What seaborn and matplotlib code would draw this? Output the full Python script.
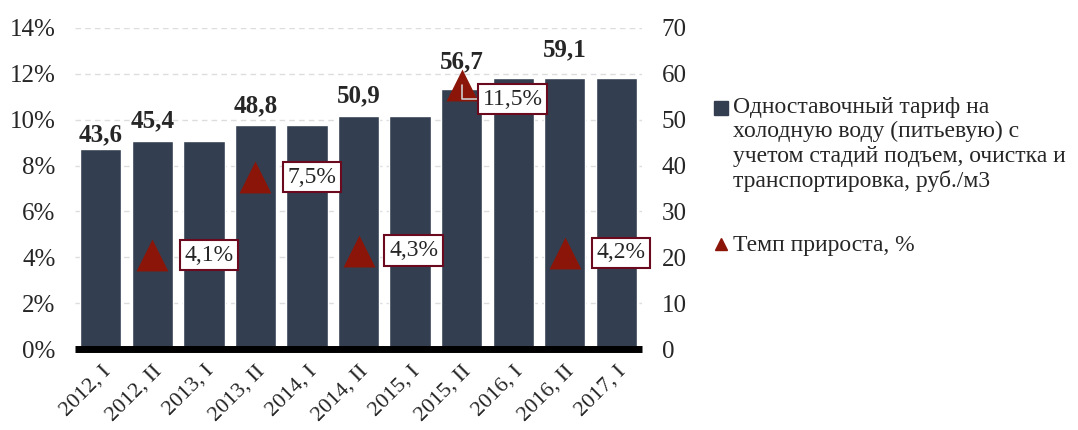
import numpy as np
import pandas as pd
import seaborn as sb
import matplotlib.pyplot as plt
from matplotlib.lines import Line2D

periods = ['2012, I', '2012, II', '2013, I', '2013, II', '2014, I', '2014, II',
           '2015, I', '2015, II', '2016, I', '2016, II', '2017, I']
tariff = [43.6, 45.4, 45.4, 48.8, 48.8, 50.9, 50.9, 56.7, 59.1, 59.1, 59.1]
growth = [np.nan, 4.1, np.nan, 7.5, np.nan, 4.3, np.nan, 11.5, np.nan, 4.2, np.nan]
labelled = [True, True, False, True, False, True, False, True, False, True, False]
# label offsets in points (value labels above bars, % boxes right of triangles)
lab_dy = [2, 6, 0, 6, 0, 6, 0, 11, 0, 12, 0]
box_dx = [0, 23, 0, 23, 0, 22, 0, 15, 0, 23, 0]
box_dy = [0, 0, 0, 0, 0, 0, 0, -10, 0, 0, 0]

bar_col = '#333F50'
tri_col = '#8B1509'
box_edge = '#6B0A1E'

df = pd.DataFrame({'period': periods, 'tariff': tariff, 'growth': growth})

sb.set_style('white')
plt.rcParams['font.family'] = ['Liberation Serif', 'DejaVu Serif']

fig = plt.figure(figsize=(10.78, 4.30), dpi=100)
ax = fig.add_axes([0.0696, 0.188, 0.526, 0.747])
ax2 = ax.twinx()

# bars on the right axis
sb.barplot(data=df, x='period', y='tariff', order=periods, color=bar_col,
           width=0.8, saturation=1, ax=ax2, zorder=2)
ax2.set_ylim(0, 70)
ax2.set_yticks(range(0, 71, 10))
ax2.yaxis.grid(True, color='#DDDDDD', linestyle=(0, (4, 3)), linewidth=1)
ax2.set_axisbelow(True)
ax2.set_ylabel('')
for i, v in enumerate(tariff):
    if labelled[i]:
        ax2.annotate(f'{v:.1f}'.replace('.', ','), (i, v), xytext=(0, lab_dy[i]),
                     textcoords='offset points', ha='center', va='bottom',
                     fontsize=18, fontweight='bold')

# triangles on the left axis
ax.set_zorder(ax2.get_zorder() + 1)
ax.patch.set_visible(False)
sb.stripplot(data=df, x='period', y='growth', order=periods, jitter=False,
             marker='^', color=tri_col, size=23, linewidth=0, ax=ax)
ax.set_ylim(0, 14)
ax.set_yticks(range(0, 15, 2))
ax.set_yticklabels([f'{t}%' for t in range(0, 15, 2)])
for i, g in enumerate(growth):
    if not np.isnan(g):
        arrow = None
        if box_dy[i] != 0:
            arrow = dict(arrowstyle='-', color='#CCCCCC', lw=1.2, shrinkA=0, shrinkB=0,
                         connectionstyle='angle,angleA=0,angleB=90,rad=0')
        ax.annotate(f'{g:.1f}%'.replace('.', ','), (i, g), xytext=(box_dx[i], box_dy[i]),
                    textcoords='offset points', ha='left', va='center', fontsize=17,
                    arrowprops=arrow,
                    bbox=dict(boxstyle='square,pad=0.2', fc='white', ec=box_edge, lw=1.5))

ax.set_xlim(-0.5, len(periods) - 0.5)
ax2.set_xlim(-0.5, len(periods) - 0.5)
ax.set_xlabel('')
ax.set_ylabel('')
ax2.set_xlabel('')
ax.tick_params(axis='y', labelsize=18, length=0, pad=14)
ax.tick_params(axis='x', labelsize=16, length=0, pad=9)
ax2.tick_params(axis='y', labelsize=18, length=0, pad=14)
plt.setp(ax.get_xticklabels(), rotation=45, ha='right', rotation_mode='anchor')
for a in (ax, ax2):
    for s in a.spines.values():
        s.set_visible(False)
ax.axhline(0, color='black', linewidth=5, zorder=5, clip_on=False,
           solid_capstyle='butt')

# legend drawn by hand so the square sits on the first line
fig.add_artist(Line2D([0.669], [1 - 108 / 430], marker='s', color=bar_col,
                      markersize=9.5, linestyle='none', transform=fig.transFigure))
fig.text(0.680, 1 - 97 / 430,
         'Одноставочный тариф на\nхолодную воду (питьевую) с\nучетом стадий подъем, очистка и\nтранспортировка, руб./м3',
         ha='left', va='top', fontsize=17, linespacing=1.2)
fig.add_artist(Line2D([0.669], [1 - 244 / 430], marker='^', color=tri_col,
                      markersize=9, linestyle='none', transform=fig.transFigure))
fig.text(0.680, 1 - 245 / 430, 'Темп прироста, %', ha='left', va='center', fontsize=17)

plt.savefig('out.png', dpi=100)
